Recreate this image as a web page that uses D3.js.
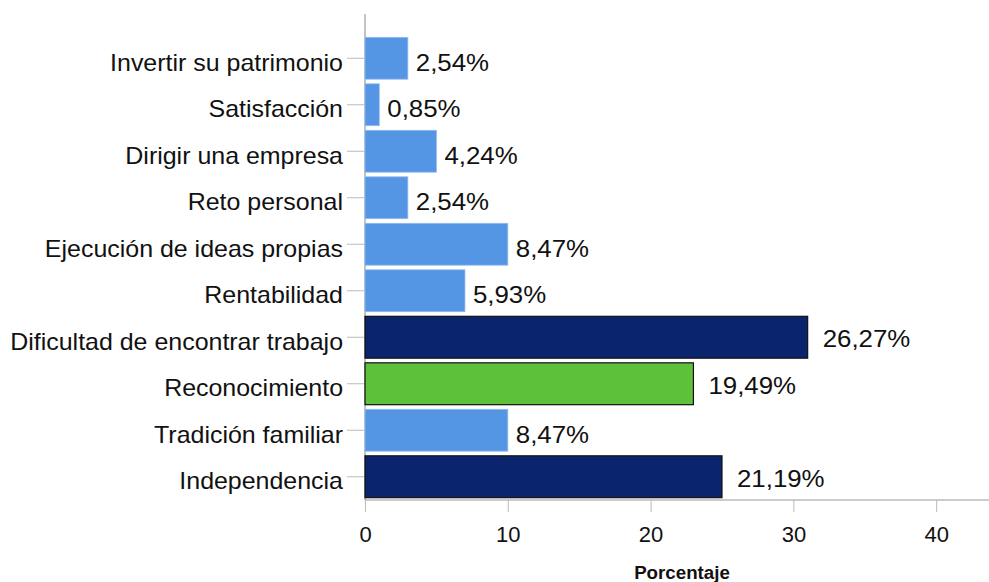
<!DOCTYPE html>
<html lang="es">
<head>
    <meta charset="UTF-8">
    <title>Porcentaje por motivo</title>
    <style>
        body {
            margin: 0;
            padding: 0;
            background: #ffffff;
            font-family: "Liberation Sans", Arial, sans-serif;
        }
    </style>
    <script src="https://d3js.org/d3.v7.min.js"></script>
</head>
<body>
    <div id="chart"></div>
    <script>
        // Categories top to bottom
        const categories = [
            "Invertir su patrimonio",
            "Satisfacción",
            "Dirigir una empresa",
            "Reto personal",
            "Ejecución de ideas propias",
            "Rentabilidad",
            "Dificultad de encontrar trabajo",
            "Reconocimiento",
            "Tradición familiar",
            "Independencia"
        ];
        // bar lengths (the chart plots counts, n = 118)
        const counts = [3, 1, 5, 3, 10, 7, 31, 23, 10, 25];
        // labels shown next to each bar
        const percentLabels = ["2,54%", "0,85%", "4,24%", "2,54%", "8,47%", "5,93%", "26,27%", "19,49%", "8,47%", "21,19%"];
        const barGroups = ["light", "light", "light", "light", "light", "light", "dark", "green", "light", "dark"];
        const xTicks = [0, 10, 20, 30, 40];

        const width = 989;
        const height = 582;
        const margin = { top: 35, right: 0, bottom: 82, left: 365 };

        const fills = { light: "#5596e4", dark: "#0b246e", green: "#5dc13a" };

        // the original text is a little wider than Liberation Sans, stretch it sideways
        function stretch(sel, sx) {
            sel.each(function () {
                const t = d3.select(this);
                const x0 = +t.attr("x") || 0;
                t.attr("x", x0 / sx).attr("transform", `scale(${sx},1)`);
            });
        }

        const svg = d3.select("#chart")
            .append("svg")
            .attr("width", width)
            .attr("height", height);

        const x = d3.scaleLinear()
            .domain([0, 43.7])
            .range([margin.left, width - margin.right]);

        const y = d3.scaleBand()
            .domain(categories)
            .range([margin.top, height - margin.bottom])
            .paddingInner(0.1)
            .paddingOuter(0.05);

        // x axis
        const xAxis = svg.append("g")
            .attr("transform", `translate(0,${height - margin.bottom})`)
            .call(d3.axisBottom(x).tickValues(xTicks).tickSize(12).tickPadding(14));
        xAxis.select(".domain").attr("stroke", "#999").attr("d", `M${margin.left},0H${width}`);
        xAxis.selectAll(".tick line").attr("stroke", "#bbb");
        xAxis.selectAll(".tick text")
            .attr("fill", "#111")
            .style("font-size", "22px")
            .style("font-family", "Liberation Sans, Arial, sans-serif");

        // y axis
        const yAxis = svg.append("g")
            .attr("transform", `translate(${margin.left},0)`)
            .call(d3.axisLeft(y).tickSize(18).tickPadding(4));
        yAxis.select(".domain").attr("stroke", "#888").attr("d", `M0,14V${height - margin.bottom}`);
        yAxis.selectAll(".tick line").attr("stroke", "#bbb");
        yAxis.selectAll(".tick text")
            .attr("fill", "#111")
            .attr("dy", "0.53em")
            .style("font-size", "24px")
            .style("font-family", "Liberation Sans, Arial, sans-serif")
            .call(stretch, 1.04);

        // bars
        svg.append("g")
            .selectAll("rect")
            .data(categories)
            .join("rect")
            .attr("x", x(0))
            .attr("y", d => y(d))
            .attr("width", (d, i) => x(counts[i]) - x(0))
            .attr("height", y.bandwidth())
            .attr("fill", (d, i) => fills[barGroups[i]])
            .attr("stroke", (d, i) => barGroups[i] === "light" ? "#8fbaf0" : "#111")
            .attr("stroke-width", (d, i) => barGroups[i] === "light" ? 0.8 : 1.2);

        // value labels
        svg.append("g")
            .selectAll("text")
            .data(categories)
            .join("text")
            .attr("x", (d, i) => x(counts[i]) + (barGroups[i] === "light" ? 8 : 15))
            .attr("y", (d, i) => y(d) + y.bandwidth() / 2 + (barGroups[i] === "light" ? 12.3 : 10))
            .attr("fill", "#111")
            .style("font-size", "23.5px")
            .text((d, i) => percentLabels[i])
            .call(stretch, 1.1);

        // axis title
        svg.append("text")
            .attr("x", x(22.2))
            .attr("y", 579)
            .attr("text-anchor", "middle")
            .attr("fill", "#111")
            .style("font-size", "17.5px")
            .style("font-weight", "bold")
            .text("Porcentaje")
            .call(stretch, 1.07);
    </script>
</body>
</html>
